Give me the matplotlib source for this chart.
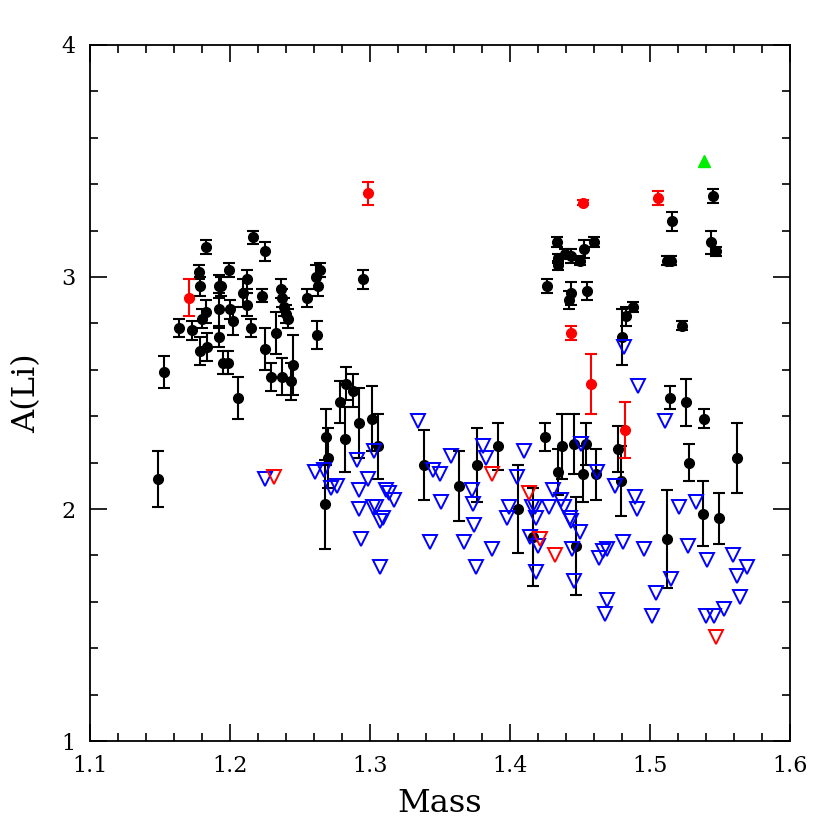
import numpy as np
import matplotlib
matplotlib.use('Agg')
import matplotlib.pyplot as plt
from matplotlib.ticker import MultipleLocator

# detections (black): mass, A(Li), error
det_mass = [1.1486, 1.153, 1.164, 1.173, 1.178, 1.183, 1.179, 1.183, 1.180, 1.179,
            1.184, 1.192, 1.194, 1.192, 1.192, 1.195, 1.199, 1.1995, 1.2005, 1.202,
            1.206, 1.2167, 1.2255, 1.2126, 1.2095, 1.212, 1.2155, 1.2233, 1.2255, 1.2333,
            1.2298, 1.2366, 1.2376, 1.2386, 1.2405, 1.2414, 1.2374, 1.2436, 1.2452, 1.2552,
            1.2643, 1.2614, 1.263, 1.2624, 1.2952,
            1.2683, 1.2702, 1.269, 1.279, 1.2833, 1.288, 1.2821, 1.2921, 1.3012, 1.306,
            1.3388, 1.3636, 1.3767, 1.3917, 1.4055, 1.4162, 1.4252, 1.4345, 1.4374, 1.4460,
            1.4543, 1.452, 1.4614, 1.4469, 1.4769, 1.479, 1.5143, 1.5257, 1.5386, 1.5279,
            1.5619, 1.5119, 1.5376, 1.5495,
            1.5448, 1.5160, 1.5436, 1.5469, 1.5119, 1.5148, 1.4333, 1.4600, 1.4529, 1.4393,
            1.4433, 1.4345, 1.4345, 1.4500, 1.4262, 1.4433, 1.4424, 1.4552, 1.4881, 1.4829,
            1.4802, 1.5231]
det_ali = [2.13, 2.59, 2.78, 2.77, 3.02, 3.13, 2.96, 2.85, 2.82, 2.68,
           2.70, 2.96, 2.96, 2.86, 2.74, 2.63, 2.63, 3.03, 2.86, 2.81,
           2.48, 3.17, 3.11, 2.99, 2.93, 2.88, 2.78, 2.92, 2.69, 2.76,
           2.57, 2.95, 2.91, 2.87, 2.84, 2.82, 2.57, 2.55, 2.62, 2.91,
           3.03, 3.00, 2.96, 2.75, 2.99,
           2.02, 2.22, 2.31, 2.46, 2.54, 2.51, 2.30, 2.37, 2.39, 2.27,
           2.19, 2.10, 2.19, 2.27, 2.00, 1.88, 2.31, 2.16, 2.27, 2.28,
           2.28, 2.15, 2.15, 1.84, 2.26, 2.12, 2.48, 2.46, 2.39, 2.20,
           2.22, 1.87, 1.98, 1.96,
           3.35, 3.24, 3.15, 3.11, 3.07, 3.07, 3.15, 3.15, 3.12, 3.10,
           3.09, 3.08, 3.05, 3.07, 2.96, 2.93, 2.90, 2.94, 2.87, 2.83,
           2.74, 2.79]
det_err = [0.12, 0.07, 0.04, 0.04, 0.03, 0.03, 0.04, 0.05, 0.04, 0.06,
           0.06, 0.05, 0.04, 0.07, 0.04, 0.05, 0.05, 0.03, 0.04, 0.06,
           0.09, 0.03, 0.04, 0.04, 0.06, 0.05, 0.04, 0.03, 0.09, 0.09,
           0.06, 0.04, 0.04, 0.04, 0.04, 0.04, 0.08, 0.08, 0.13, 0.04,
           0.03, 0.05, 0.04, 0.06, 0.04,
           0.19, 0.13, 0.12, 0.09, 0.07, 0.07, 0.14, 0.15, 0.14, 0.14,
           0.15, 0.15, 0.16, 0.10, 0.19, 0.21, 0.06, 0.10, 0.14, 0.13,
           0.09, 0.12, 0.11, 0.21, 0.10, 0.15, 0.05, 0.10, 0.04, 0.08,
           0.15, 0.21, 0.14, 0.11,
           0.03, 0.04, 0.05, 0.02, 0.02, 0.02, 0.02, 0.02, 0.04, 0.02,
           0.03, 0.02, 0.02, 0.02, 0.03, 0.05, 0.04, 0.04, 0.02, 0.04,
           0.12, 0.02]

# red detections
red_mass = [1.171, 1.2988, 1.4519, 1.5060, 1.4433, 1.4581, 1.4824]
red_ali = [2.91, 3.36, 3.32, 3.34, 2.76, 2.54, 2.34]
red_err = [0.08, 0.05, 0.01, 0.03, 0.03, 0.13, 0.12]

# upper limits (blue)
lim_mass = [1.225, 1.2612, 1.267, 1.2726, 1.2762, 1.2905, 1.3029, 1.2988, 1.2921, 1.3112,
            1.3138, 1.3171, 1.2921, 1.3019, 1.3043, 1.3071, 1.3095, 1.294, 1.3071, 1.3345,
            1.3448, 1.35, 1.3576, 1.3507, 1.3429, 1.3726, 1.3733, 1.3745, 1.3674, 1.3874,
            1.3757, 1.3805, 1.3829, 1.4102, 1.4048, 1.3995, 1.3981, 1.4179, 1.4160, 1.4183,
            1.4143, 1.4202, 1.4186, 1.4305, 1.428, 1.4362, 1.4386, 1.4429, 1.4433, 1.45,
            1.4440, 1.446, 1.4505, 1.4624, 1.4638, 1.4667, 1.4690, 1.469, 1.4679, 1.4814,
            1.4912, 1.5110, 1.475, 1.4893, 1.4909, 1.4810, 1.4959, 1.504, 1.5012, 1.515,
            1.5207, 1.5269, 1.5329, 1.5405, 1.5398, 1.5457, 1.5529, 1.559, 1.5619, 1.5695,
            1.5643]
lim_ali = [2.13, 2.16, 2.17, 2.09, 2.10, 2.21, 2.25, 2.13, 2.08, 2.08,
           2.07, 2.04, 2.00, 2.01, 2.01, 1.95, 1.96, 1.87, 1.75, 2.38,
           2.17, 2.15, 2.23, 2.03, 1.86, 2.08, 2.02, 1.93, 1.86, 1.83,
           1.75, 2.27, 2.22, 2.25, 2.14, 2.01, 1.96, 2.01, 2.01, 1.96,
           1.88, 1.84, 1.73, 2.08, 2.01, 2.04, 2.01, 1.96, 1.95, 1.90,
           1.83, 1.69, 2.28, 2.16, 1.79, 1.82, 1.83, 1.61, 1.55, 2.70,
           2.53, 2.38, 2.10, 2.05, 2.00, 1.86, 1.83, 1.64, 1.54, 1.70,
           2.01, 1.84, 2.03, 1.78, 1.54, 1.54, 1.57, 1.80, 1.71, 1.75,
           1.62]

# red upper limits
rlim_mass = [1.2314, 1.3874, 1.4136, 1.4214, 1.4324, 1.5469]
rlim_ali = [2.14, 2.15, 2.07, 1.87, 1.80, 1.45]

# green lower limit
grn_mass = [1.5386]
grn_ali = [3.50]

plt.rc('font', family='DejaVu Serif')

fig = plt.figure(figsize=(8.3, 8.3), dpi=100)
ax = fig.add_axes([0.108, 0.107, 0.844, 0.839])

eb = dict(fmt='o', ms=7, elinewidth=1.5, capsize=4, capthick=1.5, zorder=3)
ax.errorbar(det_mass, det_ali, yerr=det_err, color='k', **eb)
ax.errorbar(red_mass, red_ali, yerr=red_err, color='red', **eb)

ax.plot(lim_mass, lim_ali, 'v', ms=10, mfc='none', mec='blue', mew=1.4, ls='none', zorder=4)
ax.plot(rlim_mass, rlim_ali, 'v', ms=10, mfc='none', mec='red', mew=1.4, ls='none', zorder=4)
ax.plot(grn_mass, grn_ali, '^', ms=8, color='#00ee00', ls='none', zorder=4)

ax.set_xlim(1.1, 1.6)
ax.set_ylim(1, 4)
ax.xaxis.set_major_locator(MultipleLocator(0.1))
ax.xaxis.set_minor_locator(MultipleLocator(0.02))
ax.yaxis.set_major_locator(MultipleLocator(1))
ax.yaxis.set_minor_locator(MultipleLocator(0.2))
ax.set_xticks([1.1, 1.2, 1.3, 1.4, 1.5, 1.6])
ax.set_xticklabels(['1.1', '1.2', '1.3', '1.4', '1.5', '1.6'])
ax.set_yticks([1, 2, 3, 4])
ax.set_yticklabels(['1', '2', '3', '4'])
ax.tick_params(which='both', direction='in', top=True, right=True, width=1.2,
               labelsize=16)
ax.tick_params(which='major', length=12, pad=10)
ax.tick_params(which='minor', length=6)
for s in ax.spines.values():
    s.set_linewidth(1.3)

ax.set_xlabel('Mass', fontsize=23, labelpad=8)
ax.set_ylabel('A(Li)', fontsize=23, labelpad=14)

plt.savefig('out.png', dpi=100)
plt.close(fig)
